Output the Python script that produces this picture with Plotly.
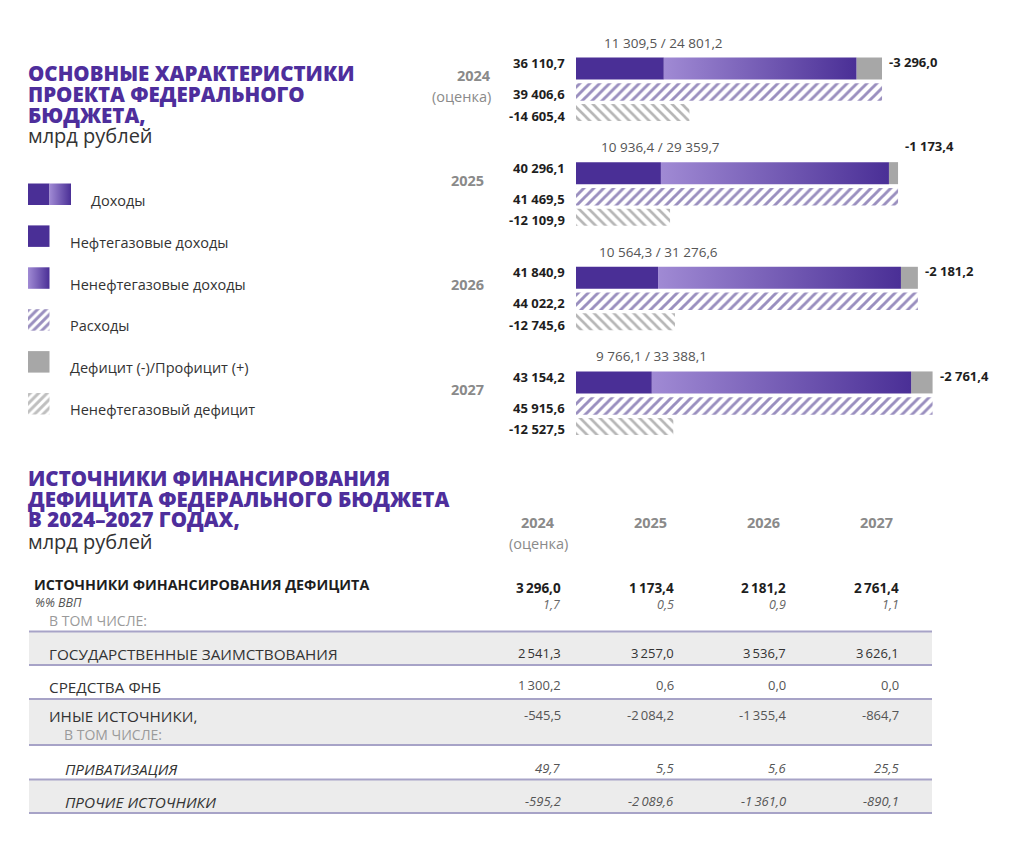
import plotly.graph_objects as go

# ---------------- data ----------------
years = ["2024", "2025", "2026", "2027"]
year_notes = ["(оценка)", "", "", ""]
income = [36110.7, 40296.1, 41840.9, 43154.2]
oil_gas_income = [11309.5, 10936.4, 10564.3, 9766.1]
non_oil_gas_income = [24801.2, 29359.7, 31276.6, 33388.1]
expenditure = [39406.6, 41469.5, 44022.2, 45915.6]
balance = [-3296.0, -1173.4, -2181.2, -2761.4]
non_oil_gas_deficit = [-14605.4, -12109.9, -12745.6, -12527.5]

legend_labels = ["Доходы", "Нефтегазовые доходы", "Ненефтегазовые доходы",
                 "Расходы", "Дефицит (-)/Профицит (+)", "Ненефтегазовый дефицит"]

title1_lines = ["ОСНОВНЫЕ ХАРАКТЕРИСТИКИ", "ПРОЕКТА ФЕДЕРАЛЬНОГО", "БЮДЖЕТА,"]
title2_lines = ["ИСТОЧНИКИ ФИНАНСИРОВАНИЯ", "ДЕФИЦИТА ФЕДЕРАЛЬНОГО БЮДЖЕТА", "В 2024–2027 ГОДАХ,"]
unit_label = "млрд рублей"

table_years = ["2024", "2025", "2026", "2027"]
table_year_notes = ["(оценка)", "", "", ""]
fin_total = [3296.0, 1173.4, 2181.2, 2761.4]
fin_gdp = [1.7, 0.5, 0.9, 1.1]
fin_borrowing = [2541.3, 3257.0, 3536.7, 3626.1]
fin_fnb = [1300.2, 0.6, 0.0, 0.0]
fin_other = [-545.5, -2084.2, -1355.4, -864.7]
fin_privatization = [49.7, 5.5, 5.6, 25.5]
fin_other_sources = [-595.2, -2089.6, -1361.0, -890.1]

row_labels = ["ИСТОЧНИКИ ФИНАНСИРОВАНИЯ ДЕФИЦИТА", "%% ВВП", "В ТОМ ЧИСЛЕ:",
              "ГОСУДАРСТВЕННЫЕ ЗАИМСТВОВАНИЯ", "СРЕДСТВА ФНБ", "ИНЫЕ ИСТОЧНИКИ,",
              "В ТОМ ЧИСЛЕ:", "ПРИВАТИЗАЦИЯ", "ПРОЧИЕ ИСТОЧНИКИ"]

# ---------------- style / geometry ----------------
W, H = 1030, 846
OFF = 8                      # default page margin of the html body
WF, HF = W - 2 * OFF, H - 2 * OFF
FONT = "Open Sans"
X0_PX = 576
PX_PER_UNIT = 0.007766
OIL = "#4a2f96"
GRAD = [[0, "#a08ad4"], [1, "#4a2f96"]]
GRAY = "#a7a7a7"
HATCH_PURPLE = "#36207f"
HATCH_GRAY = "#6e6e6e"
TITLE = "#4e2e9c"
TEXT = "#333333"
VALUE = "#1e1e1e"
YEAR = "#8a8a8a"
BAND = "#ececec"
LINE = "#a7a3c7"

G0, GSTEP = 68.5, 104.65
H_INC, H_EXP, H_DEF = 22, 17.5, 17
D_EXP, D_DEF = 23.5, 44
bal_label_dy = [-6.5, -27, -6.5, -6.5]


def fmt(v, sep="\u00a0"):
    s = f"{abs(v):,.1f}".replace(",", "#").replace(".", ",").replace("#", sep)
    return ("-" if v < 0 else "") + s


def px(x):
    return (x - OFF) / WF


fig = go.Figure()
ann = []
shapes = []


def txt(x, y, s, size=13, color=TEXT, bold=False, italic=False, anchor="left", weight=None):
    ann.append(dict(x=px(x), y=y, xref="paper", yref="y", text=s, showarrow=False,
                    xanchor=anchor, yanchor="middle",
                    font=dict(family=FONT, size=size, color=color,
                              weight=weight if weight else (700 if bold else 400),
                              style="italic" if italic else "normal")))


# ---------------- top chart ----------------
centers = [G0 + i * GSTEP for i in range(len(years))]
lbl = dict(size=13, color=VALUE, family=FONT, weight=700)
for i, c in enumerate(centers):
    fig.add_trace(go.Bar(orientation="h", y=[c], x=[oil_gas_income[i]], base=0, width=H_INC,
                         marker=dict(color=OIL, line=dict(width=0)), xaxis="x", yaxis="y",
                         showlegend=False, hoverinfo="skip"))
    x0 = oil_gas_income[i]
    x1 = oil_gas_income[i] + non_oil_gas_income[i]
    fig.add_trace(go.Scatter(x=[x0, x1, x1, x0, x0],
                             y=[c - H_INC / 2, c - H_INC / 2, c + H_INC / 2, c + H_INC / 2, c - H_INC / 2],
                             mode="lines", line=dict(width=0), fill="toself",
                             fillgradient=dict(type="horizontal", colorscale=GRAD),
                             xaxis="x", yaxis="y", showlegend=False, hoverinfo="skip"))
    fig.add_trace(go.Bar(orientation="h", y=[c], x=[-balance[i]], base=income[i], width=H_INC,
                         marker=dict(color=GRAY, line=dict(width=0)), xaxis="x", yaxis="y",
                         showlegend=False, hoverinfo="skip"))
    fig.add_trace(go.Bar(orientation="h", y=[c + D_EXP], x=[expenditure[i]], base=0, width=H_EXP,
                         marker=dict(color="white", line=dict(width=0),
                                     pattern=dict(shape="/", fgcolor=HATCH_PURPLE, bgcolor="white",
                                                  size=7, solidity=0.42, fillmode="overlay")),
                         xaxis="x", yaxis="y", showlegend=False, hoverinfo="skip"))
    fig.add_trace(go.Bar(orientation="h", y=[c + D_DEF], x=[-non_oil_gas_deficit[i]], base=0, width=H_DEF,
                         marker=dict(color="white", line=dict(width=0),
                                     pattern=dict(shape="\\", fgcolor=HATCH_GRAY, bgcolor="white",
                                                  size=7, solidity=0.38, fillmode="overlay")),
                         xaxis="x", yaxis="y", showlegend=False, hoverinfo="skip"))

    ann.append(dict(x=0, y=c - 5.5, xref="x", yref="y", text=fmt(income[i]), showarrow=False,
                    xanchor="right", yanchor="middle", xshift=-9, font=lbl))
    ann.append(dict(x=0, y=c + D_EXP + 2, xref="x", yref="y", text=fmt(expenditure[i]), showarrow=False,
                    xanchor="right", yanchor="middle", xshift=-9, font=lbl))
    ann.append(dict(x=0, y=c + D_DEF + 3, xref="x", yref="y", text=fmt(non_oil_gas_deficit[i]),
                    showarrow=False, xanchor="right", yanchor="middle", xshift=-9, font=lbl))
    ann.append(dict(x=expenditure[i], y=c + bal_label_dy[i], xref="x", yref="y", text=fmt(balance[i]),
                    showarrow=False, xanchor="left", yanchor="middle", xshift=5, font=lbl))
    ann.append(dict(x=oil_gas_income[i], y=c - 26, xref="x", yref="y",
                    text=f"{fmt(oil_gas_income[i])} / {fmt(non_oil_gas_income[i])}",
                    showarrow=False, xanchor="center", yanchor="middle",
                    font=dict(size=13.5, color="#555555", family=FONT)))
    right = 493 if year_notes[i] else 486
    txt(right, c + 7, years[i], size=14.5, color=YEAR, bold=True, anchor="right")
    if year_notes[i]:
        txt(right, c + 27.5, year_notes[i], size=14.5, color=YEAR, anchor="right")

# ---------------- titles ----------------
for k, line in enumerate(title1_lines):
    txt(26, 72.5 + k * 21, line, size=20.5, color=TITLE, weight=800)
txt(26, 135, unit_label, size=20, color=TEXT)
for k, line in enumerate(title2_lines):
    txt(26, 478 + k * 20.5, line, size=20.5, color=TITLE, weight=800)
txt(26, 541, unit_label, size=20, color=TEXT)

# ---------------- legend (pixel axis x2) ----------------
L_TOP, L_STEP, L_SIZE, L_X = 183.5, 41.9, 21.5, 28
lc = [L_TOP + L_SIZE / 2 + k * L_STEP for k in range(len(legend_labels))]


def swatch_bar(xs, yc, w, marker):
    fig.add_trace(go.Bar(orientation="h", y=[yc], x=[w], base=xs, width=L_SIZE, marker=marker,
                         xaxis="x2", yaxis="y", showlegend=False, hoverinfo="skip"))


def swatch_grad(xs, yc, w):
    fig.add_trace(go.Scatter(x=[xs, xs + w, xs + w, xs, xs],
                             y=[yc - L_SIZE / 2, yc - L_SIZE / 2, yc + L_SIZE / 2, yc + L_SIZE / 2, yc - L_SIZE / 2],
                             mode="lines", line=dict(width=0), fill="toself",
                             fillgradient=dict(type="horizontal", colorscale=GRAD),
                             xaxis="x2", yaxis="y", showlegend=False, hoverinfo="skip"))


swatch_bar(L_X, lc[0], 21.5, dict(color=OIL, line=dict(width=0)))
swatch_grad(L_X + 21.5, lc[0], 21.5)
swatch_bar(L_X, lc[1], 21.5, dict(color=OIL, line=dict(width=0)))
swatch_grad(L_X, lc[2], 21.5)
swatch_bar(L_X, lc[3], 21.5, dict(color="white", line=dict(width=0),
                                   pattern=dict(shape="/", fgcolor=HATCH_PURPLE, bgcolor="white",
                                                size=6, solidity=0.5, fillmode="overlay")))
swatch_bar(L_X, lc[4], 21.5, dict(color=GRAY, line=dict(width=0)))
swatch_bar(L_X, lc[5], 21.5, dict(color="white", line=dict(width=0),
                                   pattern=dict(shape="/", fgcolor="#808080", bgcolor="white",
                                                size=6, solidity=0.5, fillmode="overlay")))
for k, lab in enumerate(legend_labels):
    txt(89 if k == 0 else 68, lc[k] + 6, lab, size=14.5, color=TEXT)

# ---------------- table ----------------
T_LEFT, T_RIGHT = 29, 932
col_right = [563 + j * 112.7 for j in range(4)]
line_y = [631.5, 665, 699, 745, 779.5, 813]
for (a, b) in [(line_y[0], line_y[1]), (line_y[2], line_y[3]), (line_y[4], line_y[5])]:
    shapes.append(dict(type="rect", xref="paper", yref="y", x0=px(T_LEFT), x1=px(T_RIGHT), y0=a, y1=b,
                       fillcolor=BAND, line=dict(width=0), layer="below"))
for ly in line_y:
    shapes.append(dict(type="line", xref="paper", yref="y", x0=px(T_LEFT), x1=px(T_RIGHT), y0=ly, y1=ly,
                       line=dict(color=LINE, width=2), layer="above"))

for j in range(4):
    txt(col_right[j] - 25, 522, table_years[j], size=14.5, color=YEAR, bold=True, anchor="center")
    if table_year_notes[j]:
        txt(col_right[j] - 25, 543, table_year_notes[j], size=14.5, color=YEAR, anchor="center")

TS = "\u2009"
txt(32, 584.5, row_labels[0], size=14.3, color=VALUE, bold=True)
txt(33, 602, row_labels[1], size=12.5, color="#555555", italic=True)
txt(47, 620.5, row_labels[2], size=14, color="#9a9a9a")
txt(47, 654, row_labels[3], size=15.3, color=TEXT)
txt(47, 687, row_labels[4], size=15.3, color=TEXT)
txt(47, 716, row_labels[5], size=15.3, color=TEXT)
txt(62, 734, row_labels[6], size=14, color="#9a9a9a")
txt(63, 769, row_labels[7], size=15.3, color=TEXT, italic=True)
txt(63, 802, row_labels[8], size=15.3, color=TEXT, italic=True)

value_rows = [
    (fin_total, 588, dict(size=13.5, color=VALUE, bold=True)),
    (fin_gdp, 604, dict(size=12.5, color="#666666", italic=True)),
    (fin_borrowing, 653, dict(size=13, color=TEXT, weight=500)),
    (fin_fnb, 685, dict(size=13, color="#555555")),
    (fin_other, 715, dict(size=13, color="#555555")),
    (fin_privatization, 768, dict(size=13, color="#555555", italic=True)),
    (fin_other_sources, 801, dict(size=13, color="#555555", italic=True)),
]
for vals, yy, st in value_rows:
    for j, v in enumerate(vals):
        txt(col_right[j], yy, fmt(v, TS), anchor="right", **st)

# ---------------- layout ----------------
fig.update_layout(
    width=WF, height=HF, margin=dict(l=0, r=0, t=0, b=0),
    paper_bgcolor="white", plot_bgcolor="white",
    barmode="overlay", showlegend=False,
    font=dict(family=FONT, color=TEXT),
    xaxis=dict(domain=[(X0_PX - OFF) / WF, 1], range=[0, (WF + OFF - X0_PX) / PX_PER_UNIT],
               visible=False, fixedrange=True, anchor="y"),
    xaxis2=dict(domain=[0, 0.5], range=[OFF, OFF + WF * 0.5], visible=False, fixedrange=True, anchor="y"),
    yaxis=dict(domain=[0, 1], range=[OFF + HF, OFF], visible=False, fixedrange=True, anchor="x"),
    annotations=ann, shapes=shapes,
)
fig.write_html("out.html")
